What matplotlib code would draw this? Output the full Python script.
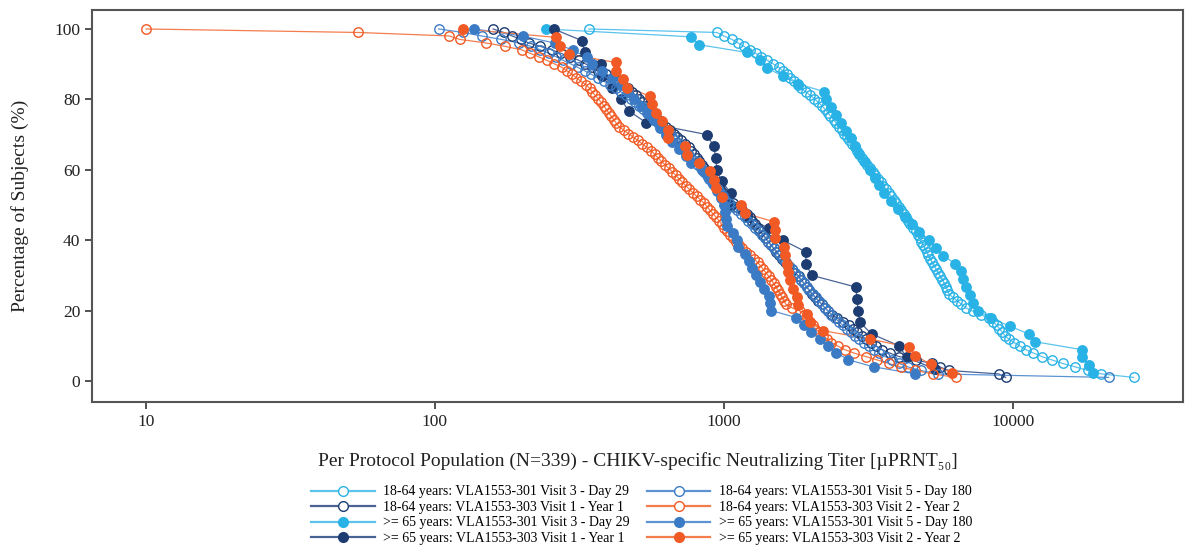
import matplotlib
matplotlib.use("Agg")
import numpy as np
import matplotlib.pyplot as plt
from matplotlib.lines import Line2D

plt.rcParams["font.family"] = ["Liberation Serif", "DejaVu Serif"]

# Individual titers (uPRNT50) per group, one value per subject
titer_1864_d29 = [341, 946, 1000, 1067, 1120, 1175, 1230, 1291, 1350, 1415,
                  1480, 1549, 1600, 1650, 1700, 1750, 1800, 1850, 1920, 1990,
                  2060, 2120, 2184, 2240, 2290, 2340, 2400, 2450, 2500, 2560,
                  2610, 2660, 2720, 2780, 2840, 2890, 2950, 3004, 3070, 3140,
                  3210, 3280, 3350, 3420, 3490, 3570, 3650, 3724, 3800, 3880,
                  3960, 4037, 4110, 4190, 4270, 4350, 4430, 4520, 4617, 4690,
                  4760, 4830, 4900, 4970, 5040, 5110, 5190, 5260, 5350, 5440,
                  5530, 5620, 5710, 5800, 5880, 5950, 6010, 6200, 6420, 6650,
                  6870, 7300, 7800, 8260, 8550, 8800, 9000, 9200, 9400, 9700,
                  10100, 10600, 11090, 11800, 12600, 13700, 14900, 16500, 18200, 20300,
                  26240]
titer_1864_y1 = [159, 173, 185, 198, 211, 232, 254, 273, 294, 315,
                 332, 349, 368, 390, 411, 433, 449, 465, 480, 496,
                 509, 522, 536, 549, 563, 579, 596, 613, 630, 650,
                 670, 691, 713, 735, 757, 773, 789, 806, 822, 839,
                 857, 876, 898, 918, 938, 955, 972, 990, 1008, 1030,
                 1075, 1115, 1160, 1200, 1230, 1255, 1280, 1310, 1340, 1368,
                 1397, 1425, 1455, 1490, 1520, 1555, 1588, 1630, 1675, 1720,
                 1770, 1820, 1855, 1895, 1935, 1975, 2016, 2070, 2125, 2180,
                 2240, 2300, 2364, 2470, 2590, 2710, 2800, 2900, 3000, 3100,
                 3230, 3370, 3520, 3750, 4037, 4617, 5243, 5600, 6010, 8950,
                 9460]
titer_1864_d180 = [103, 125, 145, 170, 195, 215, 232, 248, 263, 278,
                   295, 312, 330, 348, 366, 385, 404, 422, 440, 458,
                   476, 493, 510, 526, 542, 558, 575, 592, 609, 626,
                   644, 662, 680, 698, 716, 735, 754, 773, 792, 812,
                   832, 852, 872, 892, 912, 932, 952, 972, 992, 1012,
                   1040, 1075, 1110, 1145, 1180, 1215, 1250, 1285, 1320, 1355,
                   1390, 1425, 1460, 1495, 1530, 1565, 1600, 1640, 1680, 1720,
                   1760, 1800, 1845, 1890, 1935, 1980, 2030, 2080, 2130, 2185,
                   2240, 2300, 2360, 2430, 2500, 2580, 2660, 2750, 2840, 2940,
                   3050, 3170, 3300, 3450, 3620, 3820, 4050, 4350, 4800, 5500,
                   21500]
titer_1864_y2 = [10, 54, 112, 122, 150, 175, 200, 214, 229, 244,
                 259, 275, 286, 298, 309, 320, 333, 343, 350, 358,
                 367, 376, 384, 391, 399, 407, 416, 424, 433, 450,
                 467, 485, 504, 523, 542, 561, 576, 592, 608, 627,
                 645, 663, 682, 700, 719, 739, 760, 782, 805, 830,
                 855, 875, 895, 917, 940, 962, 983, 1005, 1030, 1055,
                 1078, 1101, 1127, 1154, 1192, 1232, 1272, 1310, 1340, 1370,
                 1400, 1432, 1462, 1488, 1514, 1540, 1566, 1592, 1616, 1640,
                 1720, 1840, 1890, 1940, 1985, 2030, 2075, 2130, 2200, 2280,
                 2360, 2480, 2620, 2820, 3100, 3400, 3720, 4100, 4600, 5300,
                 6350]
titer_65_d29 = [242, 770, 818, 1200, 1340, 1410, 1600, 1800, 2220, 2260,
                2360, 2450, 2550, 2650, 2750, 2850, 2950, 3080, 3200, 3330,
                3450, 3600, 3800, 4000, 4250, 4500, 4750, 5120, 5440, 5740,
                6340, 6650, 6750, 6870, 7130, 7300, 7600, 8400, 9800, 11350,
                11990, 17340, 17340, 18400, 19000]
titer_65_y1 = [258, 323, 330, 375, 378, 410, 440, 470, 540, 873,
               923, 938, 946, 985, 1057, 1057, 1200, 1432, 1600, 1925,
               1925, 2015, 2866, 2890, 2920, 2960, 3250, 4040, 4300, 5400]
titer_65_d180 = [137, 201, 260, 300, 335, 350, 380, 410, 440, 465,
                 490, 515, 545, 575, 600, 630, 660, 700, 740, 770,
                 840, 880, 920, 950, 980, 1000, 1010, 1016, 1030, 1080,
                 1110, 1120, 1180, 1220, 1250, 1290, 1330, 1380, 1430, 1440,
                 1460, 1780, 1900, 2000, 2150, 2300, 2450, 2700, 3300, 4600]
titer_65_y2 = [125, 262, 271, 291, 423, 423, 447, 461, 555, 563,
               582, 610, 640, 640, 733, 745, 818, 895, 923, 938,
               984, 1146, 1184, 1490, 1507, 1507, 1610, 1630, 1650, 1670,
               1700, 1740, 1790, 1800, 1940, 1990, 2200, 3210, 4380, 4600,
               5200, 6150]

labels = [
    "18-64 years: VLA1553-301 Visit 3 - Day 29",
    "18-64 years: VLA1553-303 Visit 1 - Year 1",
    ">= 65 years: VLA1553-301 Visit 3 - Day 29",
    ">= 65 years: VLA1553-303 Visit 1 - Year 1",
    "18-64 years: VLA1553-301 Visit 5 - Day 180",
    "18-64 years: VLA1553-303 Visit 2 - Year 2",
    ">= 65 years: VLA1553-301 Visit 5 - Day 180",
    ">= 65 years: VLA1553-303 Visit 2 - Year 2",
]

LIGHT = "#29B2E6"
NAVY = "#1C3C72"
MID = "#3B7BC5"
ORANGE = "#F15A24"
LINE_C = {LIGHT: "#5CC3EC", NAVY: "#4A6396", MID: "#5E93D3", ORANGE: "#F47D4E"}

# (data, colour, filled) in legend order
groups = [
    (titer_1864_d29, LIGHT, False),
    (titer_1864_y1, NAVY, False),
    (titer_65_d29, LIGHT, True),
    (titer_65_y1, NAVY, True),
    (titer_1864_d180, MID, False),
    (titer_1864_y2, ORANGE, False),
    (titer_65_d180, MID, True),
    (titer_65_y2, ORANGE, True),
]


def rcd(values):
    """Reverse cumulative distribution: % of subjects with titer >= value."""
    v = np.sort(np.asarray(values, dtype=float))
    n = len(v)
    pct = 100.0 * (n - np.arange(n)) / n
    return v, pct


fig = plt.figure(figsize=(11.86, 5.48), dpi=100)
ax = fig.add_axes([0.0776, 0.2664, 0.9199, 0.7154])

# open-marker groups underneath, filled groups on top
draw_order = [0, 4, 1, 5, 2, 6, 3, 7]
handles = [None] * len(groups)
for k in draw_order:
    vals, col, filled = groups[k]
    x, y = rcd(vals)
    ax.plot(x, y, "-", color=LINE_C[col], lw=0.9, zorder=2 + k * 0.1)
    ax.plot(x, y, "o", ls="none", ms=6.8,
            mfc=col if filled else "none", mec=col, mew=1.0,
            zorder=3 + k * 0.1)
    handles[k] = Line2D([], [], color=LINE_C[col], lw=1.6, marker="o", ms=7,
                        mfc=col if filled else "white", mec=col, mew=1.0)

ax.set_xscale("log")
ax.set_xlim(6.5, 38900)
ax.set_ylim(-6, 105.4)
ax.set_xticks([10, 100, 1000, 10000])
ax.set_xticklabels(["10", "100", "1000", "10000"])
ax.minorticks_off()
ax.set_yticks([0, 20, 40, 60, 80, 100])
ax.tick_params(axis="both", labelsize=12.5, length=5, width=1.2,
               color="#333333", labelcolor="#222222", direction="out")
for sp in ax.spines.values():
    sp.set_color("#555555")
    sp.set_linewidth(1.5)

ax.set_ylabel("Percentage of Subjects (%)", fontsize=14, color="#222222", labelpad=18)
ax.set_xlabel("Per Protocol Population (N=339) - CHIKV-specific Neutralizing Titer [µPRNT₅₀]",
              fontsize=14, color="#222222", labelpad=16)

fig.legend(handles, labels, loc="center", bbox_to_anchor=(0.541, 0.06),
           ncol=2, frameon=False, fontsize=10, handlelength=4.6,
           handletextpad=0.6, columnspacing=1.2, labelspacing=0.18)

fig.savefig("out.png", dpi=100)
